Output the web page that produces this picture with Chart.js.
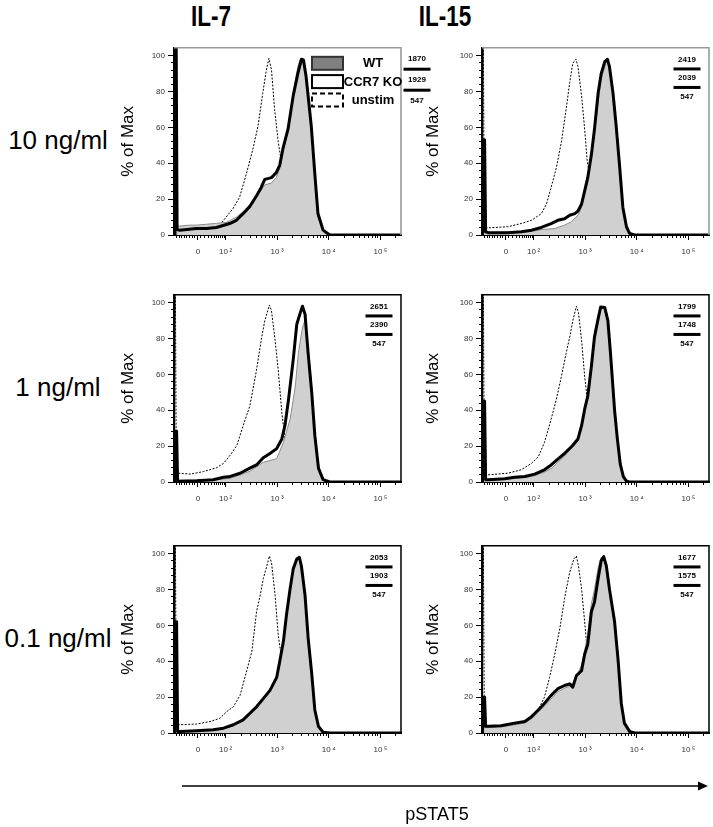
<!DOCTYPE html>
<html>
<head>
<meta charset="utf-8">
<script src="https://cdn.jsdelivr.net/npm/chart.js@4.4.1/dist/chart.umd.min.js"></script>
<style>
  body { margin: 0; background: #fff; }
  #wrap { position: relative; width: 713px; height: 827px; overflow: hidden; font-family: "Liberation Sans", Arial, sans-serif; }
  canvas { position: absolute; }
  .col-title { position: absolute; top: 0; width: 120px; text-align: center; font-weight: bold; font-size: 30px; line-height: 32px; transform: scaleX(0.75); }
  .row-label { position: absolute; left: 0; width: 116px; text-align: center; font-size: 26px; line-height: 30px; }
  #xlabel { position: absolute; top: 803px; left: 337px; width: 200px; text-align: center; font-size: 18px; line-height: 22px; }
  svg { position: absolute; left: 0; top: 0; }
</style>
</head>
<body>
<div id="wrap">
  <div class="col-title" style="left:151px">IL-7</div>
  <div class="col-title" style="left:385px">IL-15</div>
  <div class="row-label" style="top:125px">10 ng/ml</div>
  <div class="row-label" style="top:372px">1 ng/ml</div>
  <div class="row-label" style="top:623px">0.1 ng/ml</div>
  <canvas id="c0" width="340" height="220" style="left:100px;top:40px"></canvas>
  <canvas id="c1" width="305" height="220" style="left:408px;top:40px"></canvas>
  <canvas id="c2" width="340" height="220" style="left:100px;top:287px"></canvas>
  <canvas id="c3" width="305" height="220" style="left:408px;top:287px"></canvas>
  <canvas id="c4" width="340" height="220" style="left:100px;top:538px"></canvas>
  <canvas id="c5" width="305" height="220" style="left:408px;top:538px"></canvas>
  <svg width="713" height="827">
    <line x1="182" y1="786" x2="700" y2="786" stroke="#000" stroke-width="1.6"/>
    <polygon points="698,781.5 708,786 698,790.5" fill="#000"/>
  </svg>
  <div id="xlabel">pSTAT5</div>
</div>
<script>
const family = '"Liberation Sans", Arial, sans-serif';

// series names (dataset order: KO on top, then WT fill, then unstim)
const seriesNames = ['CCR7 KO', 'WT', 'unstim'];

// x axis in display units (biexponential): 0 -> 1.465, 10^2 -> 2, 10^3 -> 3 ...
const xMajorTicks = [1.465, 2, 3, 4, 5];
const xTickLabels = ['0', '10\u2009\u00b2', '10\u2009\u00b3', '10\u2009\u2074', '10\u2009\u2075'];
const xMinorTicks = [1.05, 1.1, 1.15, 1.2, 1.25, 1.3, 1.35, 1.4, 1.52, 1.6, 1.67, 1.73, 1.78, 1.83, 1.87, 1.91, 1.94, 1.97,
  2.301, 2.477, 2.602, 2.699, 2.778, 2.845, 2.903, 2.954,
  3.301, 3.477, 3.602, 3.699, 3.778, 3.845, 3.903, 3.954,
  4.301, 4.477, 4.602, 4.699, 4.778, 4.845, 4.903, 4.954,
  5.301];
const yMajorTicks = [0, 20, 40, 60, 80, 100];
const yMinorTicks = [0, 4, 8, 12, 16, 20, 24, 28, 32, 36, 40, 44, 48, 52, 56, 60, 64, 68, 72, 76, 80, 84, 88, 92, 96, 100];

// IL-7 10 ng/ml
const il7_10_ko = [[1.02,0],[1.04,120],[1.06,3],[1.11,2.7],[1.30,3.2],[1.43,3.6],[1.63,3.6],[1.82,4.2],[2.08,6.4],[2.21,8.2],[2.34,11.9],[2.47,15.9],[2.60,21.9],[2.69,26.5],[2.76,31],[2.89,32],[2.98,34.7],[3.05,39],[3.11,48],[3.21,59],[3.31,77.6],[3.40,90],[3.47,98],[3.51,97.6],[3.56,88.5],[3.66,61],[3.73,34],[3.79,12],[3.89,2.7],[4.02,0],[5.4,0]];
const il7_10_wt = [[1.02,5],[1.11,5],[1.30,5.5],[1.43,5.5],[1.63,6],[1.82,6.5],[2.01,7],[2.08,8],[2.21,10],[2.34,13],[2.47,17],[2.60,22],[2.69,25],[2.76,28],[2.89,29],[2.98,32],[3.05,37],[3.11,46],[3.21,60],[3.31,79],[3.40,94],[3.44,97.5],[3.50,96],[3.56,87],[3.66,58],[3.73,32],[3.79,10],[3.89,2],[4.0,0],[5.4,0]];
const il7_10_un = [[1.02,0],[1.035,120],[1.05,4.5],[1.11,4.5],[1.43,4.5],[1.76,5],[1.89,5.5],[2.01,10],[2.14,14.6],[2.27,21],[2.40,33.8],[2.53,48],[2.63,61],[2.72,79],[2.79,92],[2.84,98.5],[2.89,92],[2.95,70],[3.02,52],[3.08,41],[3.18,25],[3.31,10],[3.44,2],[3.56,0],[5.4,0]];
const il7_10_mfi = [1870, 1929, 547];

// IL-15 10 ng/ml
const il15_10_ko = [[1.01,0],[1.03,53],[1.05,53],[1.07,1.8],[1.12,1.3],[1.50,1.3],[1.76,1.8],[1.96,2.7],[2.15,4.2],[2.34,6.4],[2.47,8.2],[2.60,9.1],[2.70,11],[2.80,11.9],[2.86,13.3],[2.93,17.3],[2.99,24.6],[3.05,32],[3.12,44.7],[3.18,59],[3.25,79],[3.31,90],[3.38,96.7],[3.43,98],[3.47,94],[3.54,79],[3.60,61],[3.67,37.4],[3.73,15.5],[3.80,4.6],[3.86,0.9],[3.96,0],[5.4,0]];
const il15_10_wt = [[1.01,2],[1.12,1.5],[1.50,1.5],[1.76,1.5],[1.96,2],[2.15,3],[2.41,3.6],[2.60,5.5],[2.73,7.3],[2.86,11],[2.93,15.5],[3.05,30],[3.18,57],[3.31,87],[3.41,96.7],[3.44,97.6],[3.47,93],[3.54,77],[3.57,72],[3.60,62],[3.67,36],[3.73,14],[3.80,4],[3.86,0.5],[3.96,0],[5.4,0]];
const il15_10_un = [[1.01,0],[1.025,120],[1.045,4.5],[1.12,4],[1.50,4.6],[1.76,6.4],[1.96,8.2],[2.15,11.9],[2.25,17.3],[2.34,26.5],[2.44,37.4],[2.54,52],[2.63,70],[2.70,85],[2.76,95.8],[2.82,98],[2.86,94],[2.93,77.6],[2.99,59],[3.04,41],[3.12,28],[3.25,12],[3.38,3],[3.5,0],[5.4,0]];
const il15_10_mfi = [2419, 2039, 547];

// IL-7 1 ng/ml
const il7_1_ko = [[1.01,0],[1.02,28.3],[1.05,28.3],[1.07,0.5],[1.11,0.4],[1.44,0.7],[1.76,1.3],[1.96,2.6],[2.09,3.1],[2.28,4.9],[2.47,7.7],[2.60,9.5],[2.73,13.5],[2.86,15.9],[2.99,18.6],[3.09,24],[3.15,31.4],[3.22,46],[3.31,68],[3.38,88],[3.44,93.6],[3.49,98],[3.54,93.6],[3.60,71.7],[3.67,49.7],[3.73,26],[3.80,7.7],[3.89,1.3],[4.02,0],[5.4,0]];
const il7_1_wt = [[1.02,1],[1.12,1],[1.44,1],[1.76,1.2],[2.09,2],[2.47,6],[2.73,11],[2.99,13],[3.12,22],[3.25,35],[3.35,53],[3.41,71.7],[3.48,84.5],[3.51,88],[3.54,90],[3.60,75],[3.67,53],[3.73,27.8],[3.80,9.5],[3.89,1],[4.0,0],[5.4,0]];
const il7_1_un = [[1.01,0],[1.025,120],[1.045,4.9],[1.09,4.9],[1.31,4.4],[1.57,5.8],[1.83,8],[1.96,10.4],[2.09,15],[2.22,20.5],[2.34,31.4],[2.47,42.4],[2.60,62.5],[2.70,80.8],[2.76,90],[2.85,98.7],[2.89,95.4],[2.96,79],[3.02,62.5],[3.09,38.8],[3.15,24],[3.28,8],[3.41,1.5],[3.54,0],[5.4,0]];
const il7_1_mfi = [2651, 2390, 547];

// IL-15 1 ng/ml
const il15_1_ko = [[1.01,0],[1.02,45],[1.05,45],[1.07,1.3],[1.12,1.3],[1.44,1.8],[1.63,2.6],[1.83,3.1],[2.02,4.4],[2.21,6.8],[2.34,9.5],[2.47,12.8],[2.60,15.9],[2.76,20.5],[2.86,24],[2.93,31.4],[2.99,40.6],[3.05,47.9],[3.12,64.4],[3.18,80.8],[3.25,90.9],[3.30,97.6],[3.38,97.3],[3.44,90],[3.49,72],[3.54,52],[3.57,40],[3.62,25],[3.68,10],[3.74,3],[3.80,0.5],[3.86,0],[5.4,0]];
const il15_1_wt = [[1.02,1.5],[1.12,1],[1.44,1.5],[1.83,2.5],[2.02,3.5],[2.21,5.5],[2.34,7.5],[2.47,11],[2.60,14.5],[2.76,19.5],[2.86,23],[2.93,30],[2.99,39],[3.05,48],[3.12,66],[3.18,83],[3.25,93],[3.30,97],[3.38,97],[3.44,89],[3.49,72],[3.54,52],[3.57,40],[3.62,24],[3.68,9],[3.74,2.5],[3.80,0],[5.4,0]];
const il15_1_un = [[1.01,0],[1.025,120],[1.045,4],[1.12,4],[1.50,4.9],[1.76,6.8],[1.96,10.4],[2.09,14],[2.21,22],[2.34,35],[2.44,46],[2.54,59],[2.63,71.7],[2.70,80.8],[2.76,90],[2.83,98],[2.87,94.5],[2.93,79],[2.99,59],[3.04,46],[3.12,30],[3.25,12],[3.38,3],[3.5,0],[5.4,0]];
const il15_1_mfi = [1799, 1748, 547];

// IL-7 0.1 ng/ml
const il7_01_ko = [[1.01,0],[1.02,62],[1.05,62],[1.07,0.9],[1.12,0.9],[1.44,1.3],[1.76,1.8],[1.96,2.7],[2.15,4.6],[2.34,7.3],[2.47,11],[2.60,14.6],[2.73,19.2],[2.86,23.8],[2.99,31],[3.05,40],[3.12,51],[3.18,65.8],[3.25,80.4],[3.31,91.4],[3.38,97],[3.43,98],[3.47,93],[3.54,76.8],[3.60,53],[3.67,33],[3.73,12.8],[3.80,3.7],[3.89,0.4],[4.02,0],[5.4,0]];
const il7_01_wt = [[1.02,1],[1.12,1],[1.44,1.3],[1.76,1.8],[1.96,2.5],[2.15,4],[2.34,7],[2.47,10],[2.60,14],[2.73,18.5],[2.86,23],[2.99,30],[3.05,38],[3.12,50],[3.18,65],[3.25,80],[3.31,91],[3.38,97],[3.42,97.8],[3.47,93],[3.54,77],[3.60,54],[3.67,34],[3.73,13],[3.80,3.5],[3.89,0.3],[4.0,0],[5.4,0]];
const il7_01_un = [[1.01,0],[1.025,120],[1.045,4.6],[1.12,4.6],[1.44,5],[1.70,6.4],[1.89,8.2],[2.02,11.9],[2.15,14.6],[2.28,21],[2.41,34.7],[2.51,45.7],[2.60,67.6],[2.67,76.8],[2.73,86],[2.80,93.2],[2.85,98.7],[2.89,95],[2.96,76.8],[3.02,54.8],[3.09,40.2],[3.18,25],[3.31,9],[3.44,2],[3.56,0],[5.4,0]];
const il7_01_mfi = [2053, 1903, 547];

// IL-15 0.1 ng/ml
const il15_01_ko = [[1.01,0],[1.02,20],[1.05,20],[1.07,3.7],[1.12,3.7],[1.37,4],[1.63,5.5],[1.83,6.4],[1.96,9.1],[2.09,12.8],[2.21,16.5],[2.34,21],[2.47,24.7],[2.60,26.5],[2.70,27.4],[2.76,25.6],[2.83,32],[2.93,34.7],[2.99,43.9],[3.05,49.4],[3.12,67.6],[3.18,73],[3.25,86],[3.31,96],[3.36,98.4],[3.41,93.2],[3.47,80.4],[3.54,67.6],[3.57,62],[3.64,40],[3.70,16.5],[3.76,5.5],[3.86,0.9],[3.96,0],[5.4,0]];
const il15_01_wt = [[1.02,3],[1.12,3],[1.37,3.5],[1.63,4.5],[1.83,5.5],[1.96,8],[2.09,11.5],[2.21,15],[2.34,19],[2.47,23],[2.60,25],[2.70,26],[2.76,28],[2.83,31],[2.93,38],[2.99,46],[3.05,55],[3.12,72],[3.18,80],[3.25,92],[3.31,98],[3.36,97],[3.41,92],[3.47,79],[3.54,66],[3.57,60],[3.64,38],[3.70,15],[3.76,4.5],[3.86,0.5],[3.96,0],[5.4,0]];
const il15_01_un = [[1.01,0],[1.025,120],[1.045,3],[1.12,2.7],[1.50,3.7],[1.76,5.5],[1.96,8.2],[2.09,12.8],[2.21,20],[2.31,31],[2.41,43.9],[2.51,58.5],[2.60,75],[2.70,89.6],[2.78,97],[2.83,98.7],[2.87,93],[2.93,80.4],[2.99,62],[3.04,45.7],[3.12,30],[3.25,12],[3.38,3],[3.5,0],[5.4,0]];
const il15_01_mfi = [1677, 1575, 547];

const panels = [
  {canvas: 'c0', col: 0, row: 0, ko: il7_10_ko, wt: il7_10_wt, un: il7_10_un, mfi: il7_10_mfi, legend: true},
  {canvas: 'c1', col: 1, row: 0, ko: il15_10_ko, wt: il15_10_wt, un: il15_10_un, mfi: il15_10_mfi},
  {canvas: 'c2', col: 0, row: 1, ko: il7_1_ko, wt: il7_1_wt, un: il7_1_un, mfi: il7_1_mfi},
  {canvas: 'c3', col: 1, row: 1, ko: il15_1_ko, wt: il15_1_wt, un: il15_1_un, mfi: il15_1_mfi},
  {canvas: 'c4', col: 0, row: 2, ko: il7_01_ko, wt: il7_01_wt, un: il7_01_un, mfi: il7_01_mfi},
  {canvas: 'c5', col: 1, row: 2, ko: il15_01_ko, wt: il15_01_wt, un: il15_01_un, mfi: il15_01_mfi},
];

const toXY = pts => pts.map(p => ({x: p[0], y: p[1]}));

// frame, MFI values and the legend box
const panelDecor = {
  id: 'panelDecor',
  afterDatasetsDraw(chart, args, opts) {
    const {ctx, chartArea: {left, right, top, bottom}} = chart;
    const y100 = chart.scales.y.getPixelForValue(100);
    ctx.save();
    ctx.strokeStyle = opts.frameColor;
    ctx.lineWidth = opts.frameWidth;
    ctx.beginPath();
    ctx.moveTo(left, top);
    ctx.lineTo(right, top);
    ctx.lineTo(right, bottom);
    ctx.stroke();

    // MFI numbers with separators
    const cx = opts.legend ? right + 16 : right - 22;
    const y0 = opts.legend ? 3 : 4;
    const step = opts.legend ? 10.5 : 9.25;
    ctx.fillStyle = '#000';
    ctx.font = 'bold 8px ' + family;
    ctx.textAlign = 'center';
    ctx.textBaseline = 'middle';
    opts.mfi.forEach((v, i) => {
      const ty = y100 + y0 + i * 2 * step;
      ctx.fillText(String(v), cx, ty);
      if (i < opts.mfi.length - 1) {
        ctx.fillRect(cx - 13.5, ty + step - 1.5, 27, 3);
      }
    });

    if (opts.legend) {
      const ds = chart.data.datasets;
      const order = [1, 0, 2];
      const bx = left + 138, bw = 31, bh = 13;
      order.forEach((di, i) => {
        const by = top + 9 + i * 18.3;
        ctx.lineWidth = 2;
        ctx.setLineDash(di === 2 ? [5, 3] : []);
        if (di === 1) { ctx.fillStyle = '#808080'; ctx.fillRect(bx, by, bw, bh); ctx.strokeStyle = '#333'; }
        else if (di === 0) { ctx.fillStyle = '#fff'; ctx.fillRect(bx, by, bw, bh); ctx.strokeStyle = '#000'; }
        else { ctx.strokeStyle = '#000'; }
        ctx.strokeRect(bx, by, bw, bh);
        ctx.setLineDash([]);
        ctx.fillStyle = '#000';
        ctx.font = 'bold 13px ' + family;
        ctx.fillText(ds[di].label, left + 199, by + bh / 2 + 0.5);
      });
    }
    ctx.restore();
  }
};

const colPadRight = [39, 4];
const colTitlePad = [17.8, 14.8];

const makeChart = (p) => {
  const tickFont = {size: 8, family: family};
  return new Chart(document.getElementById(p.canvas), {
    type: 'line',
    data: {
      datasets: [
        {label: seriesNames[0], data: toXY(p.ko), borderColor: '#000', borderWidth: 3, pointRadius: 0, tension: 0, fill: false, borderJoinStyle: 'round'},
        {label: seriesNames[1], data: toXY(p.wt), borderColor: '#8c8c8c', borderWidth: 1, backgroundColor: '#d0d0d0', pointRadius: 0, tension: 0, fill: 'origin'},
        {label: seriesNames[2], data: toXY(p.un), borderColor: '#000', borderWidth: 1, borderDash: [2, 1.5], pointRadius: 0, tension: 0, fill: false},
      ]
    },
    options: {
      responsive: false,
      animation: false,
      events: [],
      layout: {padding: {top: 4, right: colPadRight[p.col], left: 0, bottom: 0}},
      plugins: {
        legend: {display: false},
        tooltip: {enabled: false},
        panelDecor: {
          frameColor: p.row === 0 ? '#9a9a9a' : '#000',
          frameWidth: p.row === 0 ? 1.6 : 1.5,
          mfi: p.mfi,
          legend: !!p.legend
        }
      },
      scales: {
        x: {
          type: 'linear', min: 1, max: 5.4, position: 'bottom', weight: 1,
          afterBuildTicks: s => { s.ticks = xMajorTicks.map(v => ({value: v})); },
          afterFit: s => { s.height = 25; },
          ticks: {
            callback: v => xTickLabels[xMajorTicks.indexOf(v)],
            font: tickFont, color: '#333', padding: 7, maxRotation: 0, autoSkip: false
          },
          grid: {drawOnChartArea: false, tickLength: 5, color: '#000', lineWidth: 1},
          border: {color: '#000', width: 2}
        },
        xMinor: {
          type: 'linear', min: 1, max: 5.4, position: 'bottom', weight: 0,
          afterBuildTicks: s => { s.ticks = xMinorTicks.map(v => ({value: v})); },
          afterFit: s => { s.height = 0; },
          ticks: {display: false, autoSkip: false},
          grid: {drawOnChartArea: false, tickLength: 3, color: '#000', lineWidth: 1},
          border: {display: false}
        },
        y: {
          min: 0, max: 104.4, position: 'left', weight: 1,
          afterBuildTicks: s => { s.ticks = yMajorTicks.map(v => ({value: v})); },
          afterFit: s => { s.width = 74; },
          ticks: {font: tickFont, color: '#333', padding: 3, autoSkip: false},
          grid: {drawOnChartArea: false, tickLength: 6, color: '#000', lineWidth: 1},
          border: {color: '#000', width: 2},
          title: {
            display: true, text: '% of Max', color: '#000',
            font: {size: 17, family: family},
            padding: {top: colTitlePad[p.col], bottom: 0}
          }
        },
        yMinor: {
          min: 0, max: 104.4, position: 'left', weight: 0,
          afterBuildTicks: s => { s.ticks = yMinorTicks.map(v => ({value: v})); },
          afterFit: s => { s.width = 0; },
          ticks: {display: false, autoSkip: false},
          grid: {drawOnChartArea: false, tickLength: 3, color: '#000', lineWidth: 1},
          border: {display: false}
        }
      }
    },
    plugins: [panelDecor]
  });
};

panels.forEach(makeChart);
</script>
</body>
</html>
